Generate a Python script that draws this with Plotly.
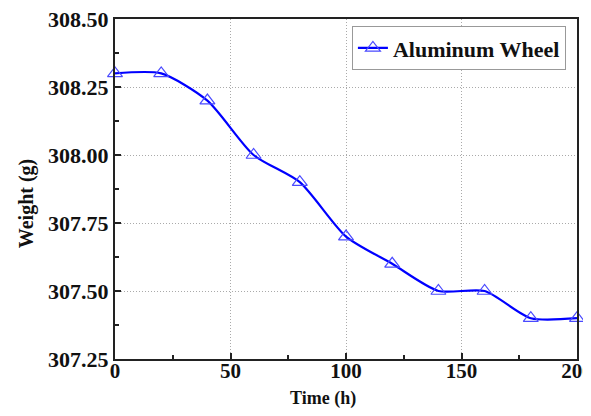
import plotly.graph_objects as go

time_h = [0, 20, 40, 60, 80, 100, 120, 140, 160, 180, 200]
weight_g = [308.30, 308.30, 308.20, 308.00, 307.90, 307.70, 307.60, 307.50, 307.50, 307.40, 307.40]
series_name = "Aluminum Wheel"
x_title = "Time (h)"
y_title = "Weight (g)"
x_ticks = [0, 50, 100, 150, 200]
y_ticks = [307.25, 307.50, 307.75, 308.00, 308.25, 308.50]
y_ticklabels = ["307.25", "307.50", "307.75", "308.00", "308.25", "308.50"]

font_family = "Liberation Serif"

fig = go.Figure()
fig.add_trace(go.Scatter(
    x=time_h, y=weight_g, name=series_name,
    mode="lines+markers",
    line=dict(color="#0000ff", width=2.2, shape="spline", smoothing=0.7),
    marker=dict(symbol="triangle-up-open", size=13, color="#4a4aff", line=dict(width=1.2)),
    cliponaxis=False,
))

axis_common = dict(
    showline=True, linecolor="#222", linewidth=2, mirror=True,
    ticks="inside", ticklen=6, tickwidth=2, tickcolor="#222",
    showgrid=True, gridcolor="#aaaaaa", griddash="1px,2px", gridwidth=1,
    zeroline=False, automargin=False, ticklabeloverflow="allow",
)

# The page body adds an 8px offset, so the figure is sized to fit the window.
fig.update_layout(
    width=583, height=408,
    margin=dict(l=107, r=14, t=11, b=57),
    paper_bgcolor="white", plot_bgcolor="white",
    showlegend=True,
    legend=dict(
        x=0.976, y=0.979, xanchor="right", yanchor="top",
        bordercolor="#999", borderwidth=1, bgcolor="white",
        font=dict(family=font_family, size=22, color="#111", weight="bold"),
        itemwidth=30, tracegroupgap=0,
    ),
    xaxis=dict(
        range=[0, 200], tickvals=x_ticks,
        minor=dict(ticks="inside", ticklen=4, tickwidth=2, tickcolor="#222", dtick=25, showgrid=False),
        tickfont=dict(family=font_family, size=21, color="#111", weight="bold"),
        ticklabelstandoff=-8,
        **axis_common,
    ),
    yaxis=dict(
        range=[307.25, 308.50], tickvals=y_ticks, ticktext=y_ticklabels,
        minor=dict(ticks="inside", ticklen=4, tickwidth=2, tickcolor="#222", dtick=0.125, showgrid=False),
        tickfont=dict(family=font_family, size=22, color="#111", weight="bold"),
        **axis_common,
    ),
    annotations=[
        dict(text=x_title, xref="paper", yref="paper", x=0.450, y=-0.115,
             xanchor="center", yanchor="middle", showarrow=False,
             font=dict(family=font_family, size=18, color="#111", weight="bold")),
        dict(text=y_title, xref="paper", yref="paper", x=-0.190, y=0.456,
             xanchor="center", yanchor="middle", showarrow=False, textangle=-90,
             font=dict(family=font_family, size=20, color="#111", weight="bold")),
    ],
)

fig.write_html("out.html")
